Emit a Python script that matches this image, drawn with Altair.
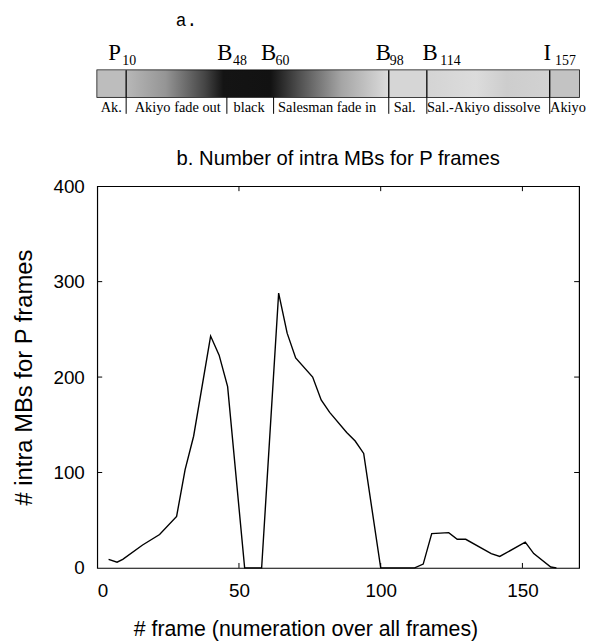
import altair as alt
import pandas as pd

# ---------------- data: line chart (b) ----------------
frames = [4, 7, 9, 16, 22, 28, 31, 34, 40, 43, 46, 52, 55, 58, 64, 67, 70, 76, 79, 82,
          88, 91, 94, 100, 106, 112, 115, 118, 124, 127, 130, 139, 142, 151, 154, 160, 162]
intra = [9, 6, 9, 24, 35, 54, 103, 138, 243, 223, 190, 0, 0, 0, 288, 246, 220, 200, 176, 163,
         142, 133, 120, 0, 0, 0, 4, 36, 37, 30, 30, 15, 12, 27, 15, 1, 0]
x_tick_vals = [50, 100, 150]
y_tick_vals = [100, 200, 300]
x_labels = [0, 50, 100, 150]
y_labels = [0, 100, 200, 300, 400]

# ---------------- data: sequence bar (a), positions in % of bar length ----------------
seg_starts = [0.0, 6.0, 60.5, 68.4, 93.9]
seg_ends = [6.0, 60.5, 68.4, 93.9, 100.0]
frame_dividers = [6.0, 60.5, 68.4, 93.9]
label_dividers = [6.0, 26.9, 36.6, 60.5, 68.4, 93.9]
seg_names = ["Ak.", "Akiyo fade out", "black", "Salesman fade in", "Sal.",
             "Sal.-Akiyo dissolve", "Akiyo"]
seg_name_pos = [2.9, 16.7, 31.5, 47.7, 63.8, 80.2, 97.7]
frame_letters = ["P", "B", "B", "B", "B", "I"]
frame_letter_pos = [2.3, 24.9, 34.0, 57.8, 67.5, 92.6]
frame_numbers = ["10", "48", "60", "98", "114", "157"]
frame_number_pos = [5.2, 28.2, 37.0, 60.7, 71.2, 95.0]
panel_a_label = ["a."]
panel_a_pos = [16.3]

W = 486
BAR_H = 27
PLOT_H = 385

xs_bar = alt.Scale(domain=[0, 100])

seg_fills = [
    "#bdbdbd",
    {"gradient": "linear", "x1": 0, "y1": 0, "x2": 1, "y2": 0,
     "stops": [{"offset": 0.0, "color": "#b8b8b8"},
               {"offset": 0.15, "color": "#959595"},
               {"offset": 0.30, "color": "#454545"},
               {"offset": 0.37, "color": "#141414"},
               {"offset": 0.55, "color": "#121212"},
               {"offset": 0.66, "color": "#505050"},
               {"offset": 0.82, "color": "#a5a5a5"},
               {"offset": 1.0, "color": "#dcdcdc"}]},
    "#d6d6d6",
    {"gradient": "linear", "x1": 0, "y1": 0, "x2": 1, "y2": 0,
     "stops": [{"offset": 0.0, "color": "#d4d4d4"},
               {"offset": 0.4, "color": "#dcdcdc"},
               {"offset": 0.65, "color": "#cdcdcd"},
               {"offset": 1.0, "color": "#d2d2d2"}]},
    "#c3c3c3",
]

seg_df = pd.DataFrame({"start": seg_starts, "end": seg_ends})
seg_layers = []
for i in range(len(seg_starts)):
    seg_layers.append(
        alt.Chart(seg_df.iloc[[i]]).mark_rect(fill=seg_fills[i], stroke=None).encode(
            x=alt.X("start:Q", scale=xs_bar, axis=None),
            x2="end:Q",
            y=alt.value(0), y2=alt.value(BAR_H),
        )
    )

fdiv = alt.Chart(pd.DataFrame({"p": frame_dividers})).mark_rule(color="black", strokeWidth=1.3).encode(
    x=alt.X("p:Q", scale=xs_bar, axis=None), y=alt.value(0), y2=alt.value(BAR_H))
ldiv = alt.Chart(pd.DataFrame({"p": label_dividers})).mark_rule(color="black", strokeWidth=1).encode(
    x=alt.X("p:Q", scale=xs_bar, axis=None), y=alt.value(BAR_H), y2=alt.value(BAR_H + 17))
names = alt.Chart(pd.DataFrame({"t": seg_names, "p": seg_name_pos})).mark_text(
    font="Liberation Serif", fontSize=14.5, color="black", align="center", baseline="alphabetic"
).encode(x=alt.X("p:Q", scale=xs_bar, axis=None), y=alt.value(BAR_H + 15), text="t:N")
letters = alt.Chart(pd.DataFrame({"t": frame_letters, "p": frame_letter_pos})).mark_text(
    font="Liberation Serif", fontSize=23, color="black", align="left", baseline="alphabetic"
).encode(x=alt.X("p:Q", scale=xs_bar, axis=None), y=alt.value(-10), text="t:N")
numbers = alt.Chart(pd.DataFrame({"t": frame_numbers, "p": frame_number_pos})).mark_text(
    font="Liberation Serif", fontSize=14, color="black", align="left", baseline="alphabetic"
).encode(x=alt.X("p:Q", scale=xs_bar, axis=None), y=alt.value(-5), text="t:N")
alabel = alt.Chart(pd.DataFrame({"t": panel_a_label, "p": panel_a_pos})).mark_text(
    font="Liberation Mono", fontSize=18, color="black", align="left", baseline="alphabetic"
).encode(x=alt.X("p:Q", scale=xs_bar, axis=None), y=alt.value(-45), text="t:N")

top = alt.layer(*seg_layers, fdiv, ldiv, names, letters, numbers, alabel).properties(
    width=W, height=BAR_H,
    view=alt.ViewBackground(stroke="black", strokeWidth=1.5),
)

# ---------------- bottom line chart ----------------
xs = alt.Scale(domain=[0, 170], nice=False, zero=False)
ys = alt.Scale(domain=[0, 400], nice=False)
line_df = pd.DataFrame({"frame": frames, "intra": intra})

line = alt.Chart(line_df).mark_line(color="black", strokeWidth=1.4).encode(
    x=alt.X("frame:Q", scale=xs,
            axis=alt.Axis(values=x_labels, title="# frame (numeration over all frames)",
                          domain=False, ticks=False, tickSize=0, grid=False,
                          labelFont="Liberation Sans", labelFontSize=19, labelColor="black",
                          labelPadding=14, titleFont="Liberation Sans", titleFontSize=21.5,
                          titleFontWeight="normal", titleColor="black", titlePadding=18,
                          titleX=210)),
    y=alt.Y("intra:Q", scale=ys,
            axis=alt.Axis(values=y_labels, title="# intra MBs for P frames",
                          domain=False, ticks=False, tickSize=0, grid=False,
                          labelFont="Liberation Sans", labelFontSize=19, labelColor="black",
                          labelPadding=13, titleFont="Liberation Sans", titleFontSize=24,
                          titleFontWeight="normal", titleColor="black", titlePadding=17)),
)

xt_df = pd.DataFrame({"v": x_tick_vals})
yt_df = pd.DataFrame({"v": y_tick_vals})
xt_bot = alt.Chart(xt_df).mark_rule(color="black", strokeWidth=1).encode(
    x=alt.X("v:Q", scale=xs), y=alt.value(PLOT_H), y2=alt.value(PLOT_H - 5))
xt_top = alt.Chart(xt_df).mark_rule(color="black", strokeWidth=1).encode(
    x=alt.X("v:Q", scale=xs), y=alt.value(0), y2=alt.value(5))
yt_left = alt.Chart(yt_df).mark_rule(color="black", strokeWidth=1).encode(
    y=alt.Y("v:Q", scale=ys), x=alt.value(0), x2=alt.value(5))
yt_right = alt.Chart(yt_df).mark_rule(color="black", strokeWidth=1).encode(
    y=alt.Y("v:Q", scale=ys), x=alt.value(W - 5), x2=alt.value(W))

bottom = alt.layer(line, xt_bot, xt_top, yt_left, yt_right).properties(
    width=W, height=PLOT_H,
    title=alt.TitleParams("b. Number of intra MBs for P frames", font="Liberation Sans",
                          fontSize=20.4, fontWeight="normal", color="black", offset=8),
    view=alt.ViewBackground(stroke="black", strokeWidth=1.2),
)

chart = alt.vconcat(top, bottom, spacing=90, bounds="flush").properties(
    padding={"left": 3, "top": 0, "right": 5, "bottom": 0},
    background="white",
)

chart.save("out.html", embed_options={"renderer": "svg", "actions": False})
